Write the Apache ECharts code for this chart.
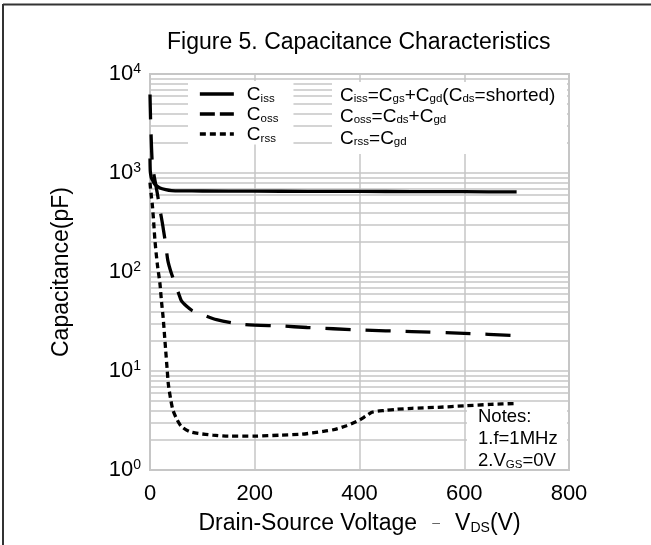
<!DOCTYPE html>
<html><head><meta charset="utf-8">
<script src="https://cdn.jsdelivr.net/npm/echarts@6/dist/echarts.min.js"></script>
<style>html,body{margin:0;padding:0;background:#fff}#c{width:651px;height:545px}</style>
</head><body><div id="c"></div>
<script>
const FONT = "'Liberation Sans', Arial, sans-serif";

// axes
const xMin = 0, xMax = 800, xStep = 200;
const yMin = 1, yMax = 10000;
const minorGrid = [2,3,4,5,6,7,8,9,
  20,30,40,50,60,70,80,90,
  200,300,400,500,600,700,800,900,
  2000,3000,4000,5000,6000,7000,8000,9000];

// Ciss
const vIss = [0, 0.5, 1.5, 3, 6, 10, 19, 30, 41, 60, 100, 200, 300, 400, 500, 600, 700];
const cIss = [1400, 1050, 950, 880, 820, 760, 707, 680, 665, 660, 658, 655, 653, 651, 649, 647, 645];

// Coss
const vOss = [0, 1, 2, 4, 7, 11, 14, 17, 20, 23, 26, 30, 34, 40, 48, 55, 60, 70, 80, 98, 127, 178, 250, 300, 400, 500, 600, 700];
const cOss = [6200, 3600, 2500, 1350, 1000, 760, 620, 500, 400, 326, 260, 190, 131, 100, 76, 60, 51, 45, 41, 37.5, 33, 29.6, 28.5, 27.5, 26, 25, 24, 22.8];

// Crss
const vRss = [0, 2, 4.4, 7, 9.5, 14, 19, 22, 25, 28, 30, 33, 35, 40, 44, 52, 60, 75, 92, 120, 150, 200, 250, 290, 330, 350, 375, 400, 412, 425, 450, 470, 500, 550, 600, 650, 700];
const cRss = [800, 620, 480, 320, 206, 120, 76, 50, 35, 22, 16, 10, 7.4, 5.0, 4.0, 3.2, 2.75, 2.45, 2.34, 2.25, 2.2, 2.2, 2.25, 2.3, 2.45, 2.55, 2.8, 3.2, 3.5, 3.85, 4.0, 4.1, 4.2, 4.3, 4.45, 4.6, 4.7];

const pairs = (xs, ys) => xs.map((x, i) => [x, ys[i]]);
const GRID_COLOR = '#c6c6c6';
const HIDE_SYMBOL = {color: 'rgba(0,0,0,0)', borderWidth: 0, opacity: 0};

const chart = echarts.init(document.getElementById('c'), null, {renderer: 'canvas'});
chart.setOption({
  animation: false,
  backgroundColor: '#fff',
  title: {
    text: 'Figure 5. Capacitance Characteristics',
    left: 167, top: 31, padding: 0,
    textStyle: {fontFamily: FONT, fontSize: 23, fontWeight: 'normal', color: '#000'}
  },
  grid: {left: 150, right: 82, top: 74, bottom: 75, show: true, borderColor: GRID_COLOR, borderWidth: 2, backgroundColor: 'transparent'},
  xAxis: {
    type: 'value', min: xMin, max: xMax, interval: xStep,
    axisLine: {show: false}, axisTick: {show: false},
    axisLabel: {fontFamily: FONT, fontSize: 22, color: '#000', margin: 13},
    splitLine: {show: true, lineStyle: {color: GRID_COLOR, width: 1.5}},
    name: 'Drain-Source Voltage{d|–}V{s|DS}(V)',
    nameLocation: 'middle', nameGap: 42,
    nameTextStyle: {fontFamily: FONT, fontSize: 23, color: '#000',
      rich: {d: {width: 38, align: 'center', fontSize: 14, color: '#666', fontFamily: FONT, lineHeight: 14, verticalAlign: 'middle'},
             s: {fontSize: 14, fontFamily: FONT, color: '#000', lineHeight: 17, verticalAlign: 'bottom'}}}
  },
  yAxis: {
    type: 'log', logBase: 10, min: yMin, max: yMax,
    axisLine: {show: false}, axisTick: {show: false},
    axisLabel: {
      margin: 9, color: '#000',
      formatter: v => '{b|10}{p|' + Math.round(Math.log10(v)) + '}',
      rich: {b: {fontFamily: FONT, fontSize: 22, color: '#000', lineHeight: 24},
             p: {fontFamily: FONT, fontSize: 14, color: '#000', verticalAlign: 'top', lineHeight: 14}}
    },
    splitLine: {show: true, lineStyle: {color: GRID_COLOR, width: 1.5}},
    name: 'Capacitance(pF)', nameLocation: 'middle', nameGap: 77,
    nameTextStyle: {fontFamily: FONT, fontSize: 23, color: '#000'}
  },
  legend: {
    orient: 'vertical', left: 188, top: 81, padding: [3.5, 15, 0, 10], itemGap: 0,
    itemWidth: 34, itemHeight: 14, selectedMode: false, backgroundColor: '#fff', z: 6,
    itemStyle: HIDE_SYMBOL,
    data: [
      {name: 'Ciss', itemStyle: HIDE_SYMBOL, lineStyle: {type: 'solid', width: 3.7, color: '#000'}},
      {name: 'Coss', itemStyle: HIDE_SYMBOL, lineStyle: {type: [15, 5], width: 3.7, color: '#000'}},
      {name: 'Crss', itemStyle: HIDE_SYMBOL, lineStyle: {type: [6, 4], width: 3.7, color: '#000'}}
    ],
    formatter: n => '{g| }{m|C}{s|' + n.slice(1) + '}',
    textStyle: {color: '#000', fontFamily: FONT, fontSize: 19,
      rich: {g: {width: 8, fontSize: 19},
             m: {fontSize: 19, lineHeight: 21, verticalAlign: 'bottom', fontFamily: FONT, color: '#000'},
             s: {fontSize: 11.5, lineHeight: 15, verticalAlign: 'bottom', fontFamily: FONT, color: '#000'}}}
  },
  graphic: [
    {type: 'line', shape: {x1: 3, y1: 4.5, x2: 651, y2: 4.5}, style: {stroke: '#333', lineWidth: 2}, z: 10},
    {type: 'line', shape: {x1: 3, y1: 4, x2: 3, y2: 545}, style: {stroke: '#333', lineWidth: 2}, z: 10},
    {type: 'rect', shape: {x: 332, y: 82, width: 235, height: 72}, style: {fill: '#fff'}, z: 1.5},
    {type: 'text', x: 340, y: 83.3, z: 10, style: {
      text: '{m|C}{s|iss}{m|=C}{s|gs}{m|+C}{s|gd}{m|(C}{s|ds}{m|=shorted)}\n{m|C}{s|oss}{m|=C}{s|ds}{m|+C}{s|gd}\n{m|C}{s|rss}{m|=C}{s|gd}',
      fill: '#000',
      rich: {m: {fontSize: 19, lineHeight: 21.5, verticalAlign: 'bottom', fontFamily: FONT, fill: '#000'},
             s: {fontSize: 11.5, lineHeight: 15, verticalAlign: 'bottom', fontFamily: FONT, fill: '#000'}}
    }},
    {type: 'rect', shape: {x: 467, y: 404, width: 100, height: 65}, style: {fill: '#fff'}, z: 1.5},
    {type: 'text', x: 478, y: 404, z: 10, style: {
      text: '{m|Notes:}\n{m|1.f=1MHz}\n{m|2.V}{s|GS}{m|=0V}',
      fill: '#000',
      rich: {m: {fontSize: 18.5, lineHeight: 22.3, verticalAlign: 'bottom', fontFamily: FONT, fill: '#000'},
             s: {fontSize: 11.5, lineHeight: 15, verticalAlign: 'bottom', fontFamily: FONT, fill: '#000'}}
    }}
  ],
  series: [
    {type: 'line', name: 'minor', data: [], z: 1, silent: true,
     markLine: {silent: true, z: 1, symbol: ['none', 'none'], label: {show: false}, animation: false,
       lineStyle: {color: GRID_COLOR, width: 1.5, type: 'solid'},
       data: minorGrid.map(v => ({yAxis: v}))}},
    {type: 'line', name: 'Ciss', data: pairs(vIss, cIss), symbol: 'none', smooth: 0.25, z: 3,
     lineStyle: {color: '#000', width: 3.3, type: 'solid'}, itemStyle: {color: '#000'}},
    {type: 'line', name: 'Coss', data: pairs(vOss, cOss), symbol: 'none', smooth: 0.25, z: 3,
     lineStyle: {color: '#000', width: 3.3, type: [25, 15]}, itemStyle: {color: '#000'}},
    {type: 'line', name: 'Crss', data: pairs(vRss, cRss), symbol: 'none', smooth: 0.25, z: 3,
     lineStyle: {color: '#000', width: 3.3, type: [6, 4]}, itemStyle: {color: '#000'}}
  ]
});
</script></body></html>
